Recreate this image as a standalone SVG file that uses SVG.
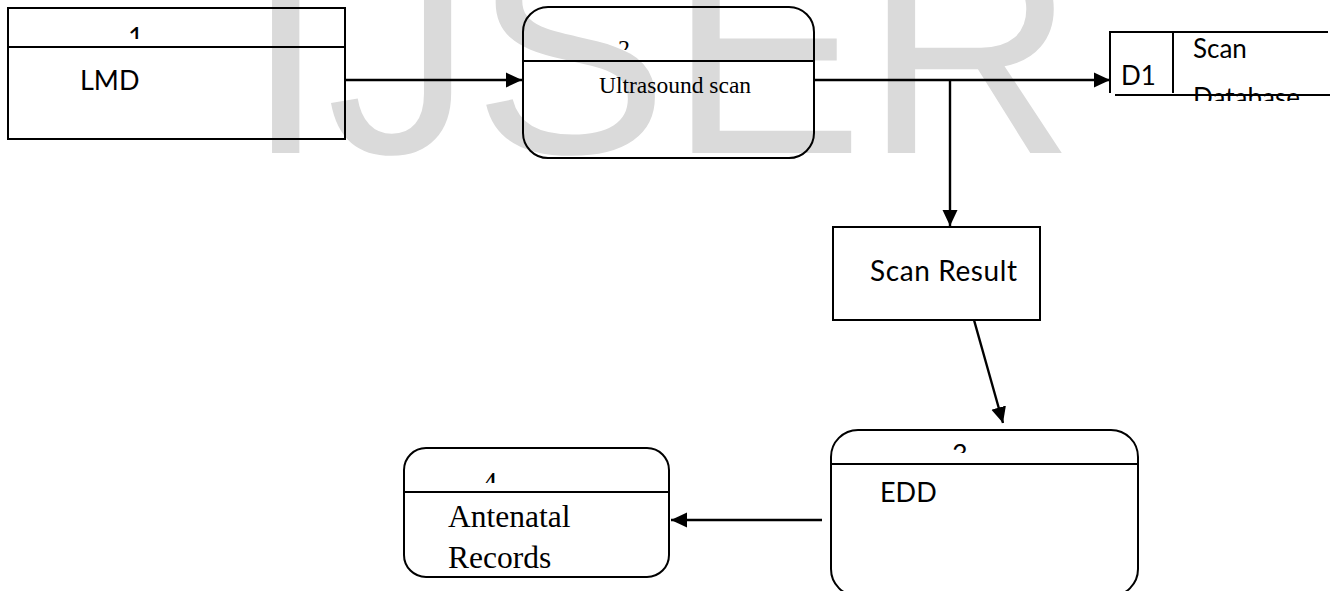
<svg xmlns="http://www.w3.org/2000/svg" width="1335" height="591" viewBox="0 0 1335 591">
  <style>
    .box { fill: none; stroke: #000; stroke-width: 2; }
    .wire { fill: none; stroke: #000; stroke-width: 2.4; }
    .sans { font-family: Lato, "Liberation Sans", sans-serif; fill: #000; }
    .serif { font-family: "Liberation Serif", "Times New Roman", serif; fill: #000; }
    .mark { font-family: "Liberation Sans", Arial, sans-serif; font-size: 293px; fill: #dadada; }
  </style>
  <defs>
    <marker id="arrow" markerUnits="userSpaceOnUse" markerWidth="17" markerHeight="16" viewBox="0 0 17 16" refX="16" refY="8" orient="auto">
      <path d="M0,0.5 L16,8 L0,15.5 Z" fill="#000"/>
    </marker>
    <clipPath id="clip1"><rect x="8" y="8" width="337" height="31"/></clipPath>
    <clipPath id="clip2"><rect x="523" y="7" width="291" height="43"/></clipPath>
    <clipPath id="clip3"><rect x="831" y="430" width="307" height="23"/></clipPath>
    <clipPath id="clip4"><rect x="404" y="448" width="265" height="35"/></clipPath>
    <clipPath id="clipD1"><rect x="1180" y="35" width="155" height="66"/></clipPath>
  </defs>

  <rect width="1335" height="591" fill="#fff"/>

  <!-- background watermark -->
  <text class="mark" x="245" y="153">IJSER</text>

  <!-- connectors -->
  <g id="connectors">
    <line class="wire" x1="345" y1="80" x2="522" y2="80" marker-end="url(#arrow)"/>
    <line class="wire" x1="814" y1="80" x2="1110" y2="80" marker-end="url(#arrow)"/>
    <line class="wire" x1="950" y1="80" x2="950" y2="226" marker-end="url(#arrow)"/>
    <line class="wire" x1="974" y1="320" x2="1003" y2="423" marker-end="url(#arrow)"/>
    <line class="wire" x1="822" y1="520" x2="671" y2="520" marker-end="url(#arrow)"/>
  </g>

  <!-- process 1 -->
  <g id="node-lmd">
    <rect class="box" x="8" y="8" width="337" height="131"/>
    <line class="box" x1="8" y1="47" x2="345" y2="47"/>
    <text class="sans" x="128" y="47" font-size="27" clip-path="url(#clip1)">1</text>
    <text class="sans" x="80" y="90" font-size="27">LMD</text>
  </g>

  <!-- process 2 -->
  <g id="node-ultrasound">
    <rect class="box" x="523" y="7" width="291" height="151" rx="25" ry="25"/>
    <line class="box" x1="523" y1="61" x2="814" y2="61"/>
    <text class="serif" x="618" y="56" font-size="24" clip-path="url(#clip2)">2</text>
    <text class="serif" x="599" y="93" font-size="23.5">Ultrasound scan</text>
  </g>

  <!-- data store D1 -->
  <g id="store-d1">
    <path class="box" d="M1110,93 L1110,32 L1328,32"/>
    <line class="box" x1="1173" y1="32" x2="1173" y2="93"/>
    <text class="sans" x="1121" y="85" font-size="26">D1</text>
    <text class="sans" x="1193" y="58" font-size="26">Scan</text>
    <text class="sans" x="1193" y="107" font-size="26" clip-path="url(#clipD1)">Database</text>
    <line class="box" x1="1115" y1="95" x2="1330" y2="95"/>
  </g>

  <!-- data flow: Scan Result -->
  <g id="node-scan-result">
    <rect class="box" x="833" y="227" width="207" height="93"/>
    <text class="sans" x="870" y="281" font-size="28" letter-spacing="0.6">Scan Result</text>
  </g>

  <!-- process 3 -->
  <g id="node-edd">
    <rect class="box" x="831" y="430" width="307" height="166" rx="27" ry="27"/>
    <line class="box" x1="831" y1="464" x2="1138" y2="464"/>
    <text class="sans" x="952" y="464" font-size="27" clip-path="url(#clip3)">3</text>
    <text class="sans" x="880" y="502" font-size="27">EDD</text>
  </g>

  <!-- process 4 -->
  <g id="node-antenatal">
    <rect class="box" x="404" y="448" width="265" height="129" rx="22" ry="22"/>
    <line class="box" x1="404" y1="492" x2="669" y2="492"/>
    <text class="serif" x="482" y="494" font-size="31" clip-path="url(#clip4)">4</text>
    <text class="serif" x="448" y="527" font-size="31.5">Antenatal</text>
    <text class="serif" x="448" y="568" font-size="31.5">Records</text>
  </g>
</svg>
